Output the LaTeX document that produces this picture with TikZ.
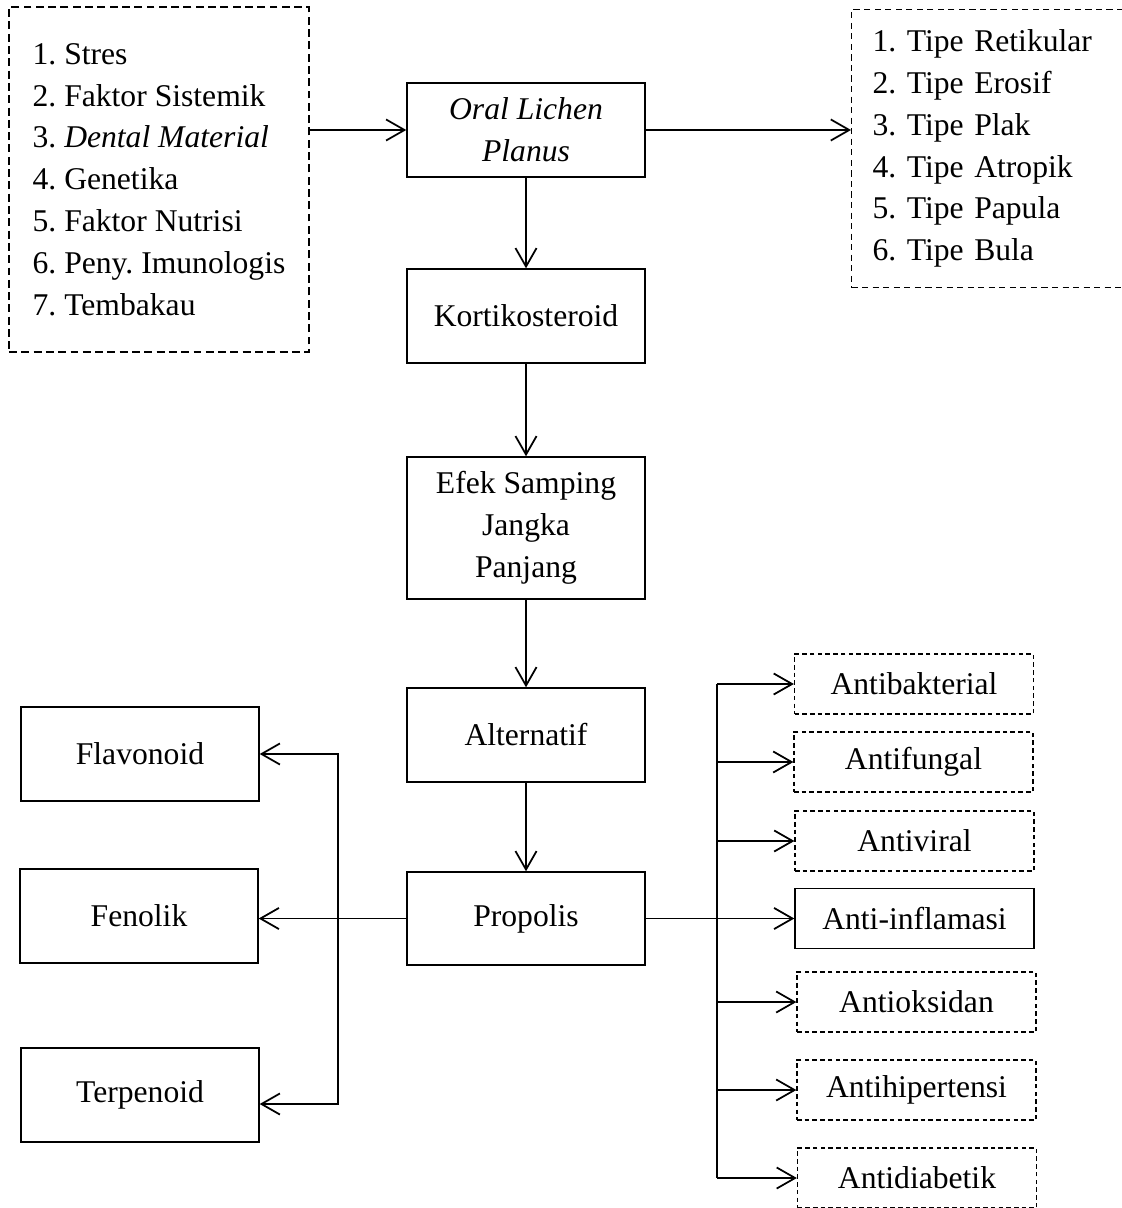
\documentclass[tikz,border=0pt]{standalone}
\usepackage{fontspec}
\setmainfont{Liberation Serif}
\usepackage{tikz}
\usetikzlibrary{arrows.meta}
\newcommand{\txtsize}{\fontsize{18}{23.8}\selectfont\frenchspacing}

\begin{document}
\begin{tikzpicture}[
        >={Straight Barb[length=10.5pt,width=12pt]},
        box/.style={draw,line width=0.8pt,minimum width=4.76cm,minimum height=1.88cm,align=center,font=\txtsize},
        listbox/.style={draw,line width=0.7pt,dash pattern=on 4.5pt off 2.5pt,align=left,font=\txtsize},
        effbox/.style={draw,line width=0.7pt,dash pattern=on 2.6pt off 1.8pt,minimum width=4.78cm,minimum height=1.2cm,font=\txtsize},
        link/.style={->,line width=1pt}
    ]
        \clip (0,0) rectangle (22.44,-24.16);
        \fill[white] (0,0) rectangle (22.44,-24.16);

        \node[listbox,minimum width=6cm,minimum height=6.9cm] (causes) at (3.18,-3.59)
            {1. Stres\\2. Faktor Sistemik\\3. \textit{Dental Material}\\4. Genetika\\5. Faktor Nutrisi\\6. Peny. Imunologis\\7. Tembakau};
        \node[listbox,dash pattern=on 3.5pt off 2.5pt,anchor=north west,text width=5cm,inner xsep=0.42cm,minimum height=5.56cm] (types) at (17.02,-0.18)
            {1. Tipe Retikular\\2. Tipe Erosif\\3. Tipe Plak\\4. Tipe Atropik\\5. Tipe Papula\\6. Tipe Bula};

        \node[box] (olp) at (10.52,-2.6) {\textit{Oral Lichen}\\\textit{Planus}};
        \node[box] (kort) at (10.52,-6.32) {Kortikosteroid};
        \node[box,minimum height=2.84cm] (efek) at (10.52,-10.56) {Efek Samping\\Jangka\\Panjang};
        \node[box] (alt) at (10.52,-14.7) {Alternatif};
        \node[box,minimum height=1.86cm] (prop) at (10.52,-18.37) {Propolis};

        \node[box] (flav) at (2.8,-15.08) {Flavonoid};
        \node[box] (fen) at (2.78,-18.32) {Fenolik};
        \node[box] (terp) at (2.8,-21.9) {Terpenoid};

        \node[effbox] (abak) at (18.28,-13.68) {Antibakterial};
        \node[effbox] (afun) at (18.27,-15.24) {Antifungal};
        \node[effbox] (avir) at (18.29,-16.82) {Antiviral};
        \node[effbox,solid,line width=0.8pt] (ainf) at (18.29,-18.37) {Anti-inflamasi};
        \node[effbox] (aoks) at (18.33,-20.04) {Antioksidan};
        \node[effbox] (ahip) at (18.33,-21.8) {Antihipertensi};
        \node[effbox] (adia) at (18.34,-23.56) {Antidiabetik};

        \coordinate (lbus) at (6.76,-22.08);
        \coordinate (rbus) at (14.34,0);

        \draw[link] (olp.west -| causes.east) -- (olp.west);
        \draw[link] (olp.east) -- (olp.east -| types.west);
        \draw[link] (olp) -- (kort);
        \draw[link] (kort) -- (efek);
        \draw[link] (efek) -- (alt);
        \draw[link] (alt) -- (prop);

        \draw[link] (prop.west) -- (prop.west -| fen.east);
        \draw[link,<->] (flav.east) -| (lbus) -- (lbus -| terp.east);

        \draw[line width=1pt] (abak.west -| rbus) -- (adia.west -| rbus);
        \draw[link] (prop.east) -- (ainf.west);
        \draw[link] (abak.west -| rbus) -- (abak.west);
        \draw[link] (afun.west -| rbus) -- (afun.west);
        \draw[link] (avir.west -| rbus) -- (avir.west);
        \draw[link] (aoks.west -| rbus) -- (aoks.west);
        \draw[link] (ahip.west -| rbus) -- (ahip.west);
        \draw[link] (adia.west -| rbus) -- (adia.west);
    \end{tikzpicture}
\end{document}
